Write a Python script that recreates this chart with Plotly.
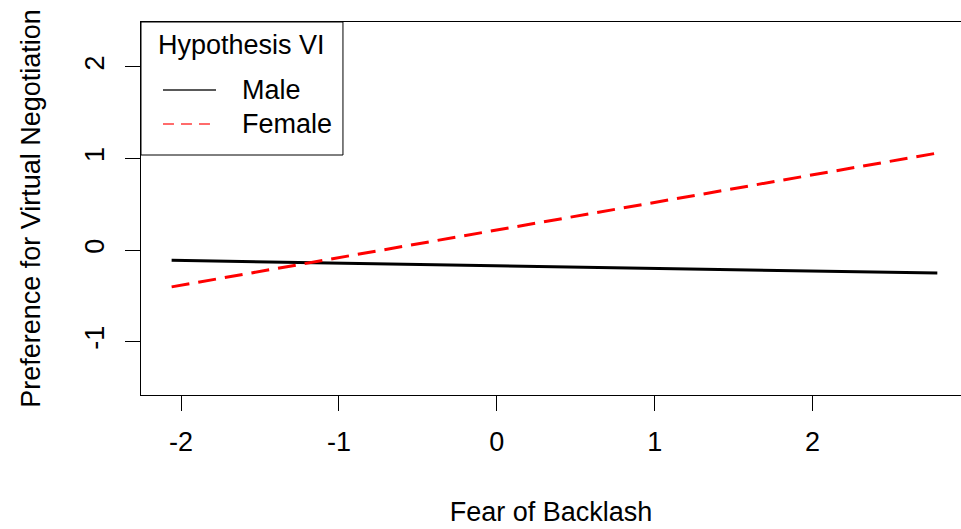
import plotly.graph_objects as go

# Data
fear = [-2.06, 2.79]
male = [-0.11, -0.25]
female = [-0.40, 1.06]
x_ticks = [-2, -1, 0, 1, 2]
x_labels = ["-2", "-1", "0", "1", "2"]
y_ticks = [-1, 0, 1, 2]
y_labels = ["-1", "0", "1", "2"]
legend_title = "Hypothesis VI"
series_names = ["Male", "Female"]

FONT = "Liberation Sans, Arial, sans-serif"
FS = 27

fig = go.Figure()
fig.add_trace(go.Scatter(x=fear, y=male, mode="lines", name=series_names[0],
                         line=dict(color="black", width=3)))
fig.add_trace(go.Scatter(x=fear, y=female, mode="lines", name=series_names[1],
                         line=dict(color="red", width=3, dash="18px,9px")))

axis_common = dict(showgrid=False, zeroline=False, showline=True, linecolor="black",
                   linewidth=1, ticks="outside", ticklen=15, tickcolor="black",
                   tickfont=dict(size=FS, color="black", family=FONT), automargin=False)

# R-style legend box in the top-left corner of the plot region (domain coordinates)
LX1, LY0 = 0.2463, 0.6434
TITLE_Y = 0.9383
ITEM_Y = [0.8177, 0.7265]
SAMPLE_X = (0.0268, 0.0915)
TEXT_X = 0.1207
sample_styles = [dict(color="#222222", width=1.6),
                 dict(color="#ff3b3b", width=1.6, dash="11px,7px")]

shapes = [dict(type="rect", xref="x domain", yref="y domain", x0=0, x1=LX1, y0=LY0, y1=1,
               line=dict(color="black", width=1), fillcolor="white", layer="above")]
annotations = [dict(text=legend_title, xref="x domain", yref="y domain", x=LX1 / 2,
                    y=TITLE_Y, xanchor="center", yanchor="middle", showarrow=False,
                    font=dict(size=FS, color="black", family=FONT))]
for name, yy, st in zip(series_names, ITEM_Y, sample_styles):
    shapes.append(dict(type="line", xref="x domain", yref="y domain",
                       x0=SAMPLE_X[0], x1=SAMPLE_X[1], y0=yy, y1=yy, line=st, layer="above"))
    annotations.append(dict(text=name, xref="x domain", yref="y domain", x=TEXT_X, y=yy,
                            xanchor="left", yanchor="middle", showarrow=False,
                            font=dict(size=FS, color="black", family=FONT)))

fig.update_layout(
    width=961, height=529,
    margin=dict(l=141, r=0, t=22, b=134),
    paper_bgcolor="white", plot_bgcolor="white",
    font=dict(family=FONT, color="black", size=FS),
    showlegend=False,
    shapes=shapes, annotations=annotations,
    xaxis=dict(range=[-2.254, 2.94], tickvals=x_ticks, ticktext=x_labels, ticklabelstandoff=8,
               title=dict(text="Fear of Backlash", font=dict(size=FS), standoff=45),
               mirror=True, **axis_common),
    yaxis=dict(range=[-1.58, 2.49], tickvals=y_ticks, ticktext=y_labels, tickangle=-90,
               ticklabelstandoff=10,
               title=dict(text="Preference for Virtual Negotiation", font=dict(size=FS), standoff=31),
               mirror=True, **axis_common),
)

fig.write_html("out.html", config={"displayModeBar": False})

# remove the default page margin so the figure sits at the window's corner
with open("out.html", "r", encoding="utf-8") as f:
    html = f.read()
html = html.replace("<head>", "<head><style>body{margin:0;padding:0;overflow:hidden;}</style>", 1)
with open("out.html", "w", encoding="utf-8") as f:
    f.write(html)
